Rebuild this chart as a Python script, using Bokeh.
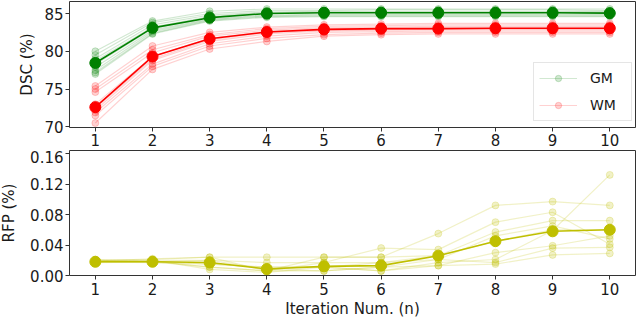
from bokeh.plotting import figure
from bokeh.layouts import column
from bokeh.models import FixedTicker, PrintfTickFormatter, Legend, LegendItem, Range1d
from bokeh.embed import file_html
from bokeh.resources import INLINE

iters = [1, 2, 3, 4, 5, 6, 7, 8, 9, 10]

gm_subjects = [
    [80.0, 84.0, 85.3, 85.6, 85.6, 85.6, 85.6, 85.6, 85.6, 85.6],
    [79.5, 83.8, 85.0, 85.4, 85.4, 85.5, 85.5, 85.5, 85.5, 85.4],
    [79.0, 83.5, 84.8, 85.2, 85.3, 85.3, 85.3, 85.3, 85.3, 85.3],
    [78.7, 83.2, 84.6, 85.1, 85.2, 85.2, 85.2, 85.2, 85.2, 85.2],
    [78.3, 83.0, 84.5, 85.0, 85.1, 85.1, 85.1, 85.1, 85.1, 85.1],
    [77.9, 82.8, 84.3, 84.8, 84.9, 84.9, 84.9, 84.9, 84.9, 84.9],
    [77.5, 82.6, 84.2, 84.7, 84.8, 84.8, 84.8, 84.8, 84.8, 84.8],
    [77.2, 82.4, 84.1, 84.6, 84.7, 84.7, 84.7, 84.7, 84.7, 84.7],
    [77.0, 82.3, 84.0, 84.5, 84.6, 84.6, 84.6, 84.6, 84.6, 84.6],
]
wm_subjects = [
    [75.4, 80.7, 82.5, 83.2, 83.5, 83.6, 83.7, 83.7, 83.7, 83.7],
    [75.0, 80.2, 82.2, 83.0, 83.3, 83.4, 83.5, 83.5, 83.5, 83.5],
    [74.6, 79.8, 82.0, 82.8, 83.1, 83.2, 83.3, 83.3, 83.3, 83.3],
    [73.0, 79.3, 81.7, 82.6, 82.9, 83.0, 83.1, 83.1, 83.1, 83.1],
    [72.5, 79.0, 81.5, 82.5, 82.8, 82.9, 83.0, 83.0, 83.0, 83.0],
    [72.2, 78.8, 81.3, 82.3, 82.7, 82.8, 82.9, 82.9, 82.9, 82.9],
    [71.9, 78.3, 81.0, 82.0, 82.5, 82.6, 82.7, 82.7, 82.7, 82.7],
    [71.5, 78.0, 80.7, 81.7, 82.2, 82.4, 82.5, 82.5, 82.5, 82.5],
    [70.5, 77.6, 80.3, 81.3, 82.0, 82.2, 82.3, 82.3, 82.3, 82.3],
]
gm_mean = [78.45, 83.1, 84.45, 85.0, 85.1, 85.1, 85.1, 85.1, 85.1, 85.05]
wm_mean = [72.6, 79.3, 81.65, 82.55, 82.9, 83.0, 83.0, 83.05, 83.05, 83.05]

rfp_subjects = [
    [0.020, 0.021, 0.024, 0.024, 0.024, 0.024, 0.055, 0.092, 0.097, 0.092],
    [0.019, 0.020, 0.020, 0.017, 0.017, 0.036, 0.034, 0.070, 0.083, 0.041],
    [0.018, 0.019, 0.015, 0.011, 0.011, 0.017, 0.026, 0.057, 0.072, 0.072],
    [0.020, 0.018, 0.011, 0.006, 0.006, 0.011, 0.021, 0.052, 0.065, 0.048],
    [0.021, 0.020, 0.008, 0.004, 0.011, 0.006, 0.017, 0.021, 0.059, 0.132],
    [0.017, 0.018, 0.020, 0.008, 0.006, 0.011, 0.013, 0.030, 0.039, 0.052],
    [0.019, 0.022, 0.024, 0.006, 0.017, 0.017, 0.021, 0.017, 0.036, 0.037],
    [0.018, 0.017, 0.015, 0.011, 0.011, 0.006, 0.013, 0.015, 0.027, 0.029],
    [0.020, 0.019, 0.011, 0.006, 0.024, 0.024, 0.026, 0.045, 0.060, 0.060],
]
rfp_mean = [0.018, 0.018, 0.017, 0.0085, 0.012, 0.013, 0.026, 0.045, 0.058, 0.060]

dsc_ticks = [70, 75, 80, 85]
rfp_ticks = [0.0, 0.04, 0.08, 0.12, 0.16]
series_labels = ["GM", "WM"]

GREEN = "#008000"
RED = "#ff0000"
OLIVE = "#bfbf00"
FONT = "DejaVu Sans"
TXT = "#1a1a1a"
FS = "15px"


def style(p, xlabel, ylabel, ylab_standoff, xtick_standoff, xlab_standoff):
    p.outline_line_color = "#333333"
    p.outline_line_width = 1
    p.xgrid.visible = False
    p.ygrid.visible = False
    for ax in (p.xaxis[0], p.yaxis[0]):
        ax.axis_line_color = None
        ax.major_tick_line_color = "#333333"
        ax.major_tick_out = 4
        ax.major_tick_in = 0
        ax.minor_tick_line_color = None
        ax.major_label_text_font = FONT
        ax.major_label_text_font_size = FS
        ax.major_label_text_color = TXT
        ax.axis_label_text_font = FONT
        ax.axis_label_text_font_size = FS
        ax.axis_label_text_font_style = "normal"
        ax.axis_label_text_color = TXT
        ax.major_label_standoff = 2
    p.xaxis[0].ticker = FixedTicker(ticks=iters)
    p.xaxis[0].axis_label = xlabel
    p.xaxis[0].major_label_standoff = xtick_standoff
    p.xaxis[0].axis_label_standoff = xlab_standoff
    p.yaxis[0].axis_label = ylabel
    p.yaxis[0].axis_label_standoff = ylab_standoff


p1 = figure(width=640, height=152, output_backend="svg", toolbar_location=None,
            x_range=Range1d(0.548, 10.45), y_range=Range1d(69.91, 86.59),
            min_border_left=68, min_border_right=2, min_border_top=3, min_border_bottom=23)
style(p1, None, "DSC (%)", 5, 2, 2)
p1.yaxis[0].ticker = FixedTicker(ticks=dsc_ticks)

first = {}
for color, subjects, label in ((GREEN, gm_subjects, series_labels[0]), (RED, wm_subjects, series_labels[1])):
    for k, s in enumerate(subjects):
        l = p1.line(iters, s, line_color=color, line_alpha=0.18, line_width=1.2)
        m = p1.scatter(iters, s, size=7, fill_color=color, fill_alpha=0.18,
                       line_color=color, line_alpha=0.18)
        if k == 0:
            first[label] = [l, m]
for color, mean in ((GREEN, gm_mean), (RED, wm_mean)):
    p1.line(iters, mean, line_color=color, line_width=1.6)
    p1.scatter(iters, mean, size=11, fill_color=color, line_color=color)

legend = Legend(items=[LegendItem(label=lab, renderers=first[lab]) for lab in series_labels],
                location=(464, 6), label_text_font=FONT, label_text_font_size="14px",
                label_text_color=TXT, glyph_width=38, glyph_height=16, label_height=20,
                label_width=36, label_standoff=13, spacing=7, padding=5, margin=0,
                border_line_color="#cccccc", border_line_width=1,
                background_fill_color="white", background_fill_alpha=0.8)
p1.add_layout(legend)

p2 = figure(width=640, height=170, output_backend="svg", toolbar_location=None,
            x_range=Range1d(0.548, 10.45), y_range=Range1d(0.0, 0.164),
            min_border_left=68, min_border_right=2, min_border_top=0, min_border_bottom=44)
style(p2, "Iteration Num. (n)", "RFP (%)", 9, 3, 2)
p2.yaxis[0].ticker = FixedTicker(ticks=rfp_ticks)
p2.yaxis[0].formatter = PrintfTickFormatter(format="%.2f")

for s in rfp_subjects:
    p2.line(iters, s, line_color=OLIVE, line_alpha=0.22, line_width=1.2)
    p2.scatter(iters, s, size=7, fill_color=OLIVE, fill_alpha=0.22, line_color=OLIVE, line_alpha=0.22)
p2.line(iters, rfp_mean, line_color=OLIVE, line_width=1.6)
p2.scatter(iters, rfp_mean, size=11, fill_color=OLIVE, line_color=OLIVE)

layout = column(p1, p2, spacing=0, styles={"margin": "-2px 0px -4px -3px"})

open("out.html", "w").write(file_html(layout, INLINE))
